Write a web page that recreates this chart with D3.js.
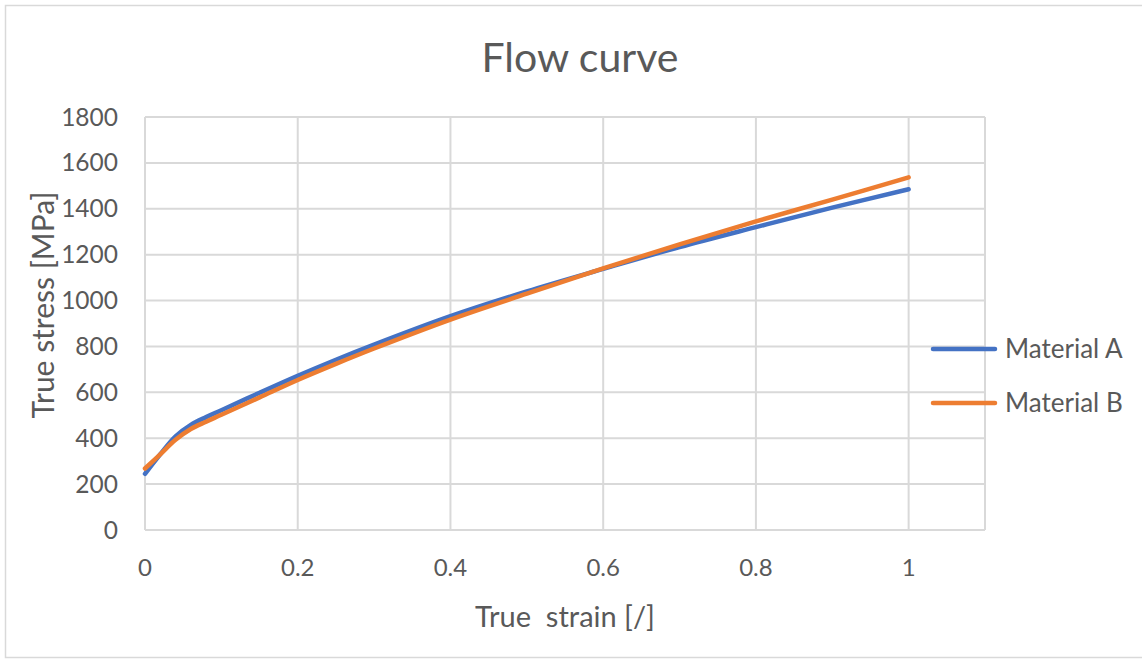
<!DOCTYPE html>
<html>
<head>
<meta charset="utf-8">
<script src="https://cdn.jsdelivr.net/npm/d3@7"></script>
<style>
  body { margin: 0; background: #fff; }
  svg text { font-family: Lato, "Open Sans", sans-serif; fill: #595959; }
</style>
</head>
<body>
<svg id="chart" width="1142" height="663"></svg>
<script>
// strain values (x) and stress for each material
var strain = [0, 0.02, 0.04, 0.06, 0.08, 0.1, 0.15, 0.2, 0.25, 0.3, 0.4, 0.5, 0.6, 0.7, 0.8, 0.9, 1.0];
var stressA = [245, 330, 408, 458, 492, 522, 598, 672, 742, 808, 932, 1040, 1138, 1233, 1320, 1405, 1485];
var stressB = [268, 330, 393, 440, 472, 502, 578, 654, 724, 791, 917, 1030, 1140, 1245, 1345, 1440, 1537];
var seriesNames = ["Material A", "Material B"];
var seriesColors = ["#4472c4", "#ed7d31"];
var xTicks = [0, 0.2, 0.4, 0.6, 0.8, 1];
var yTicks = [0, 200, 400, 600, 800, 1000, 1200, 1400, 1600, 1800];

var svg = d3.select("#chart");

// outer chart frame
svg.append("rect")
  .attr("x", 5.5).attr("y", 5.5)
  .attr("width", 1150).attr("height", 652)
  .attr("fill", "none").attr("stroke", "#d9d9d9").attr("stroke-width", 1.5);

var plotL = 145, plotR = 985, plotT = 117, plotB = 530;
var x = d3.scaleLinear().domain([0, 1.1]).range([plotL, plotR]);
var y = d3.scaleLinear().domain([0, 1800]).range([plotB, plotT]);

//=========================grid=========================
svg.append("g").selectAll("line").data(yTicks).enter().append("line")
  .attr("x1", plotL).attr("x2", plotR)
  .attr("y1", function(d) { return y(d); }).attr("y2", function(d) { return y(d); })
  .attr("stroke", "#d9d9d9").attr("stroke-width", 2);

svg.append("g").selectAll("line").data(xTicks.concat([1.1])).enter().append("line")
  .attr("x1", function(d) { return x(d); }).attr("x2", function(d) { return x(d); })
  .attr("y1", plotT).attr("y2", plotB)
  .attr("stroke", "#d9d9d9").attr("stroke-width", 2);

//=========================tick labels=========================
svg.append("g").selectAll("text").data(yTicks).enter().append("text")
  .attr("x", 118).attr("y", function(d) { return y(d); })
  .attr("dy", "0.35em").attr("text-anchor", "end")
  .style("font-size", "24.5px")
  .text(function(d) { return d; });

svg.append("g").selectAll("text").data(xTicks).enter().append("text")
  .attr("x", function(d) { return x(d); }).attr("y", 576)
  .attr("text-anchor", "middle")
  .style("font-size", "24px")
  .text(function(d) { return d; });

//=========================titles=========================
svg.append("text")
  .attr("x", 580).attr("y", 72).attr("text-anchor", "middle")
  .style("font-size", "41px")
  .text("Flow curve");

svg.append("text")
  .attr("x", 565).attr("y", 627).attr("text-anchor", "middle")
  .style("font-size", "29px").style("white-space", "pre")
  .text("True  strain [/]");

svg.append("text")
  .attr("transform", "translate(54,305) rotate(-90)")
  .attr("text-anchor", "middle")
  .style("font-size", "30px")
  .text("True stress [MPa]");

//=========================curves=========================
var line = d3.line()
  .x(function(d) { return x(d[0]); })
  .y(function(d) { return y(d[1]); })
  .curve(d3.curveCatmullRom.alpha(0.5));

[stressA, stressB].forEach(function(vals, i) {
  var pts = strain.map(function(s, k) { return [s, vals[k]]; });
  svg.append("path").datum(pts)
    .attr("d", line)
    .attr("fill", "none")
    .attr("stroke", seriesColors[i])
    .attr("stroke-width", 4.5)
    .attr("stroke-linecap", "round");
});

//=========================legend=========================
var legend = svg.append("g").selectAll("g").data(seriesNames).enter().append("g")
  .attr("transform", function(d, i) { return "translate(931," + (349 + i * 54) + ")"; });

legend.append("line")
  .attr("x1", 2).attr("x2", 64)
  .attr("stroke", function(d, i) { return seriesColors[i]; })
  .attr("stroke-width", 4.5).attr("stroke-linecap", "round");

legend.append("text")
  .attr("x", 74).attr("dy", "0.35em")
  .style("font-size", "26px")
  .text(function(d) { return d; });
</script>
</body>
</html>
